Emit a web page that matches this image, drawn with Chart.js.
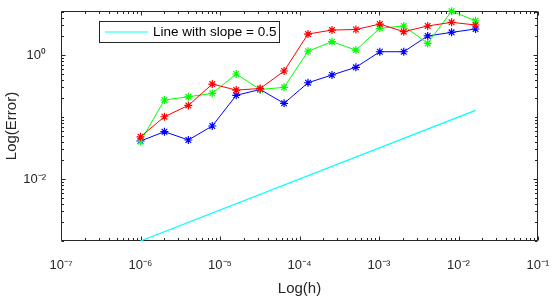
<!DOCTYPE html>
<html>
<head>
<meta charset="utf-8">
<title>Log(Error) vs Log(h)</title>
<script src="https://cdn.jsdelivr.net/npm/chart.js@4.4.1/dist/chart.umd.min.js"></script>
<style>
    html, body { margin: 0; padding: 0; background: #ffffff; }
    #chart { display: block; }
</style>
</head>
<body>
<canvas id="chart" width="556" height="301"></canvas>
<script>
// step sizes h (x axis)
const hValues = [1e-6, 2e-6, 4e-6, 8e-6, 1.6e-5, 3.2e-5, 6.4e-5, 1.28e-4, 2.56e-4, 5.12e-4, 1.024e-3, 2.048e-3, 4.096e-3, 8.192e-3, 1.6384e-2];

// errors
const redError = [0.048, 0.101, 0.154, 0.34, 0.272, 0.288, 0.552, 2.18, 2.53, 2.58, 3.16, 2.38, 2.94, 3.37, 3.05];
const greenError = [0.0403, 0.188, 0.212, 0.241, 0.494, 0.278, 0.301, 1.15, 1.64, 1.2, 2.7, 2.94, 1.54, 5.1, 3.57];
const blueError = [0.041, 0.058, 0.0426, 0.0716, 0.224, 0.278, 0.166, 0.357, 0.476, 0.634, 1.13, 1.13, 2.03, 2.32, 2.63];

// reference line (two end points)
const slopeLineH = [1e-6, 1.6384e-2];
const slopeLineError = [1e-3, 0.128];

// axes
const xRange = [1e-7, 1e-1];
const yRange = [1e-3, 5.13];
const xTickValues = [1e-7, 1e-6, 1e-5, 1e-4, 1e-3, 1e-2, 1e-1];
const xTickLabels = ['10⁻⁷', '10⁻⁶', '10⁻⁵', '10⁻⁴', '10⁻³', '10⁻²', '10⁻¹'];
const yTickValues = [1e-2, 1];
const yTickLabels = ['10⁻²', '10⁰'];

const legendLabel = 'Line with slope = 0.5';

const AXIS_COLOR = '#262626';
const FONT = 'Liberation Sans, Arial, Helvetica, sans-serif';

function toPoints(xs, ys) {
    return xs.map((x, i) => ({ x: x, y: ys[i] }));
}

// all 1..9 x 10^n positions inside a range (minor tick marks)
function logTickPositions(min, max) {
    const out = [];
    for (let e = Math.floor(Math.log10(min)); e <= Math.ceil(Math.log10(max)); e++) {
        for (let m = 1; m < 10; m++) {
            const v = m * Math.pow(10, e);
            if (v >= min * 0.999 && v <= max * 1.001) out.push(v);
        }
    }
    return out;
}

function isMajor(v, majors) {
    return majors.some(m => Math.abs(Math.log10(m) - Math.log10(v)) < 1e-6);
}

// fixed axis box sizes, no extra label padding from chart.js
function fixScaleSize(scale, size) {
    if (scale.isHorizontal()) scale.height = size;
    else scale.width = size;
    scale.paddingTop = 0;
    scale.paddingBottom = 0;
    scale.paddingLeft = 0;
    scale.paddingRight = 0;
}

// box round the plot with inward tick marks, like MATLAB
const boxTicksPlugin = {
    id: 'boxTicks',
    beforeDatasetsDraw(chart) {
        const { ctx, chartArea: a } = chart;
        const xs = chart.scales.x;
        const ys = chart.scales.y;
        const left = Math.round(a.left) + 0.5;
        const right = Math.round(a.right) - 0.5;
        const top = Math.round(a.top) + 0.5;
        const bottom = Math.round(a.bottom) - 0.5;

        ctx.save();
        ctx.strokeStyle = AXIS_COLOR;
        ctx.lineWidth = 1;
        ctx.beginPath();
        ctx.rect(left, top, right - left, bottom - top);

        logTickPositions(xRange[0], xRange[1]).forEach(v => {
            const len = isMajor(v, xTickValues) ? 4 : 2.5;
            const px = Math.round(xs.getPixelForValue(v)) + 0.5;
            ctx.moveTo(px, bottom); ctx.lineTo(px, bottom - len);
            ctx.moveTo(px, top); ctx.lineTo(px, top + len);
        });
        logTickPositions(yRange[0], yRange[1]).forEach(v => {
            const len = isMajor(v, yTickValues) ? 4 : 2.5;
            const py = Math.round(ys.getPixelForValue(v)) + 0.5;
            ctx.moveTo(left, py); ctx.lineTo(left + len, py);
            ctx.moveTo(right, py); ctx.lineTo(right - len, py);
        });
        ctx.stroke();
        ctx.restore();
    }
};

// boxed legend inside the axes (only the slope line has an entry)
const boxLegendPlugin = {
    id: 'boxLegend',
    afterDatasetsDraw(chart) {
        const ctx = chart.ctx;
        const x0 = 99.5, y0 = 21.5, w = 180, h = 21;
        ctx.save();
        ctx.fillStyle = '#ffffff';
        ctx.fillRect(x0, y0, w, h);
        ctx.strokeStyle = AXIS_COLOR;
        ctx.lineWidth = 1;
        ctx.strokeRect(x0, y0, w, h);

        ctx.strokeStyle = '#00ffff';
        ctx.lineWidth = 1.2;
        ctx.beginPath();
        ctx.moveTo(105, 32);
        ctx.lineTo(148, 32);
        ctx.stroke();

        ctx.fillStyle = '#000000';
        ctx.font = '13.5px ' + FONT;
        ctx.textAlign = 'left';
        ctx.textBaseline = 'middle';
        ctx.fillText(legendLabel, 153, 32.5);
        ctx.restore();
    }
};

function makeSeries(label, color, ys) {
    return {
        label: label,
        data: toPoints(hValues, ys),
        borderColor: color,
        backgroundColor: color,
        borderWidth: 1,
        pointStyle: 'star',
        pointRadius: 4,
        pointBorderWidth: 1.2,
        pointBorderColor: color,
        fill: false,
        tension: 0,
        clip: false
    };
}

new Chart(document.getElementById('chart'), {
    type: 'line',
    data: {
        datasets: [
            makeSeries('red', '#ff0000', redError),
            makeSeries('green', '#00ff00', greenError),
            makeSeries('blue', '#0000ff', blueError),
            {
                label: legendLabel,
                data: toPoints(slopeLineH, slopeLineError),
                borderColor: '#00ffff',
                backgroundColor: '#00ffff',
                borderWidth: 1.2,
                pointRadius: 0,
                fill: false,
                tension: 0
            }
        ]
    },
    options: {
        responsive: false,
        animation: false,
        devicePixelRatio: 1,
        layout: { padding: { top: 11, right: 18, bottom: 0, left: 0 } },
        plugins: {
            legend: { display: false },
            tooltip: { enabled: false }
        },
        scales: {
            x: {
                type: 'logarithmic',
                min: xRange[0],
                max: xRange[1],
                grid: { display: false, drawTicks: false },
                border: { display: false },
                afterBuildTicks: (scale) => { scale.ticks = xTickValues.map(v => ({ value: v })); },
                afterFit: (scale) => fixScaleSize(scale, 60),
                ticks: {
                    autoSkip: false,
                    maxRotation: 0,
                    padding: 17,
                    color: AXIS_COLOR,
                    font: { family: FONT, size: 13 },
                    callback: (value, index) => xTickLabels[index]
                },
                title: {
                    display: true,
                    text: 'Log(h)',
                    color: AXIS_COLOR,
                    font: { family: FONT, size: 15 },
                    padding: { top: 0, bottom: 3 }
                }
            },
            y: {
                type: 'logarithmic',
                min: yRange[0],
                max: yRange[1],
                grid: { display: false, drawTicks: false },
                border: { display: false },
                afterBuildTicks: (scale) => { scale.ticks = yTickValues.map(v => ({ value: v })); },
                afterFit: (scale) => fixScaleSize(scale, 61),
                ticks: {
                    autoSkip: false,
                    padding: 15,
                    color: AXIS_COLOR,
                    font: { family: FONT, size: 13 },
                    callback: (value, index) => yTickLabels[index]
                },
                title: {
                    display: true,
                    text: 'Log(Error)',
                    color: AXIS_COLOR,
                    font: { family: FONT, size: 15 },
                    padding: { top: 3, bottom: 0 }
                }
            }
        }
    },
    plugins: [boxTicksPlugin, boxLegendPlugin]
});
</script>
</body>
</html>
